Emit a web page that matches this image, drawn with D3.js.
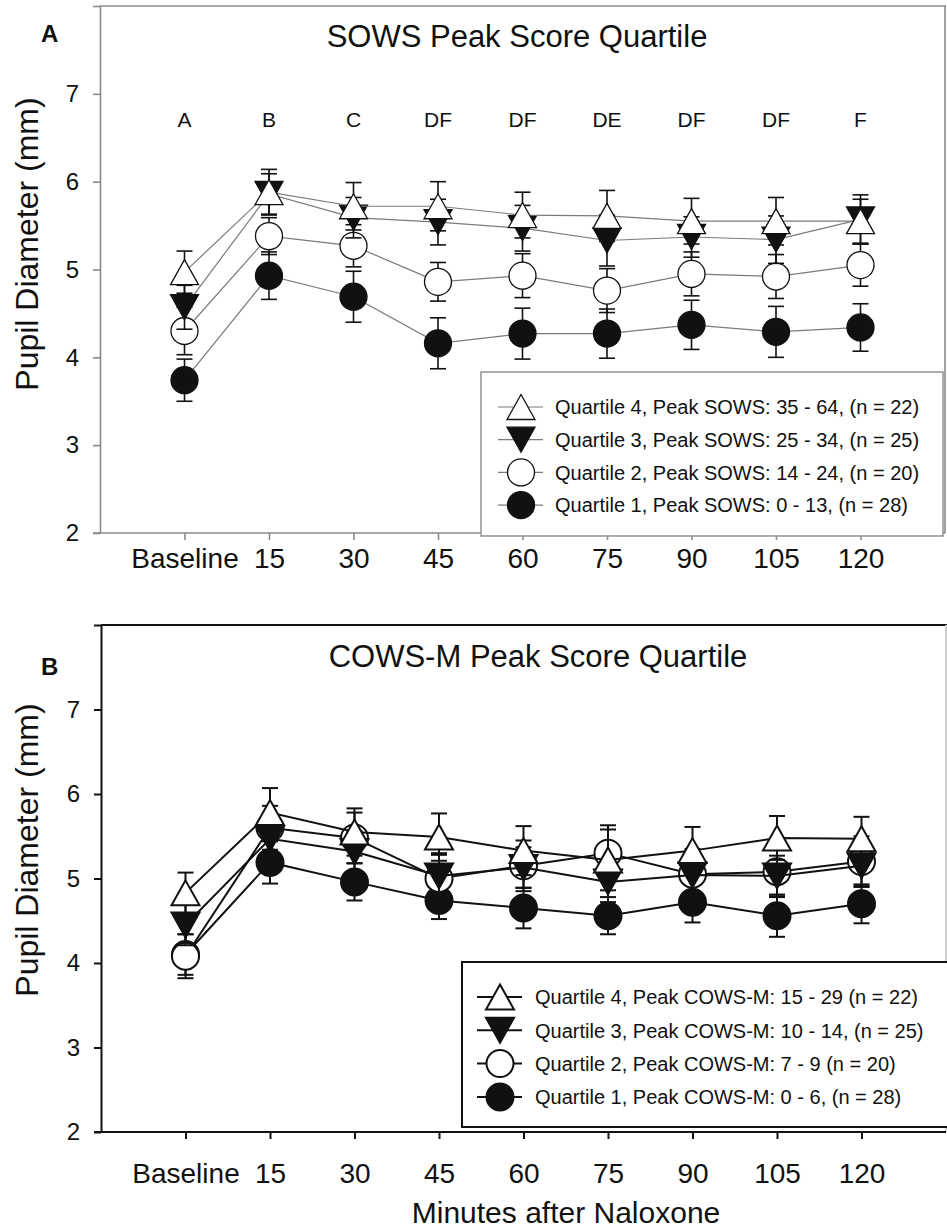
<!DOCTYPE html>
<html><head><meta charset="utf-8">
<script src="https://cdn.jsdelivr.net/npm/d3@7"></script>
<style>
body{margin:0;background:#fff}
svg{display:block}
text{font-family:"Liberation Sans",Arial,sans-serif;fill:#111}
</style>
</head><body>
<svg id="c" width="947" height="1232"></svg>
<script>
// ---------- data ----------
const timepoints = ["Baseline","15","30","45","60","75","90","105","120"];
const yTicks = [2,3,4,5,6,7,8];
const sigLetters = ["A","B","C","DF","DF","DE","DF","DF","F"];

// Panel A: SOWS peak score quartile (mean, SE)
const sowsQ1 = [3.74,4.93,4.69,4.16,4.27,4.27,4.37,4.29,4.34];
const sowsQ1Err = [0.24,0.27,0.29,0.29,0.29,0.28,0.28,0.29,0.27];
const sowsQ2 = [4.30,5.38,5.27,4.86,4.93,4.76,4.95,4.92,5.05];
const sowsQ2Err = [0.27,0.21,0.24,0.22,0.25,0.25,0.25,0.25,0.24];
const sowsQ3 = [4.57,5.86,5.59,5.54,5.47,5.33,5.37,5.34,5.57];
const sowsQ3Err = [0.25,0.23,0.23,0.26,0.26,0.29,0.23,0.27,0.28];
const sowsQ4 = [4.97,5.88,5.72,5.72,5.62,5.61,5.55,5.55,5.55];
const sowsQ4Err = [0.24,0.26,0.27,0.28,0.26,0.29,0.26,0.27,0.25];
const sowsLegend = [
  "Quartile 4, Peak SOWS: 35 - 64, (n = 22)",
  "Quartile 3, Peak SOWS: 25 - 34, (n = 25)",
  "Quartile 2, Peak SOWS: 14 - 24, (n = 20)",
  "Quartile 1, Peak SOWS: 0 - 13, (n = 28)"
];

// Panel B: COWS-M peak score quartile (mean, SE)
const cowsQ1 = [4.10,5.19,4.96,4.74,4.65,4.56,4.72,4.56,4.70];
const cowsQ1Err = [0.24,0.25,0.22,0.22,0.24,0.22,0.24,0.25,0.23];
const cowsQ2 = [4.08,5.60,5.48,5.00,5.15,5.30,5.05,5.08,5.20];
const cowsQ2Err = [0.26,0.26,0.30,0.30,0.30,0.33,0.30,0.30,0.30];
const cowsQ3 = [4.45,5.47,5.32,5.03,5.13,4.96,5.04,5.03,5.15];
const cowsQ3Err = [0.24,0.25,0.24,0.25,0.24,0.24,0.24,0.24,0.24];
const cowsQ4 = [4.83,5.78,5.55,5.49,5.33,5.22,5.33,5.48,5.47];
const cowsQ4Err = [0.24,0.29,0.28,0.28,0.29,0.36,0.28,0.26,0.26];
const cowsLegend = [
  "Quartile 4, Peak COWS-M: 15 - 29 (n = 22)",
  "Quartile 3, Peak COWS-M: 10 - 14, (n = 25)",
  "Quartile 2, Peak COWS-M: 7 - 9 (n = 20)",
  "Quartile 1, Peak COWS-M: 0 - 6, (n = 28)"
];

// ---------- drawing ----------
const svg = d3.select("#c");

function drawMarker(g, type, cx, cy, sw) {
  const hw = 14, hh = 12.5;
  if (type === "tri") {
    g.append("path").attr("d", d3.line()([[cx,cy-hh],[cx+hw,cy+hh],[cx-hw,cy+hh]]) + "Z")
      .attr("fill","#fff").attr("stroke","#111").attr("stroke-width",sw);
  } else if (type === "itri") {
    g.append("path").attr("d", d3.line()([[cx,cy+hh],[cx+hw,cy-hh],[cx-hw,cy-hh]]) + "Z")
      .attr("fill","#111").attr("stroke","#111").attr("stroke-width",sw);
  } else {
    g.append("circle").attr("cx",cx).attr("cy",cy).attr("r",13.5)
      .attr("fill", type === "fcirc" ? "#111" : "#fff")
      .attr("stroke","#111").attr("stroke-width",sw);
  }
}

function panel(o) {
  const g = svg.append("g");
  const x = d3.scaleLinear().domain([-1, 9]).range([o.left, o.right]);
  const y = d3.scaleLinear().domain([2, 8]).range([o.bottom, o.top]);

  // frame top & right
  g.append("line").attr("x1",o.left).attr("x2",o.right+1).attr("y1",y(8)).attr("y2",y(8))
    .attr("stroke",o.axisColor).attr("stroke-width",o.axisW);
  g.append("line").attr("x1",o.right).attr("x2",o.right).attr("y1",y(8)).attr("y2",y(2))
    .attr("stroke",o.rightColor).attr("stroke-width",o.axisW);

  // y axis
  const ya = g.append("g").attr("transform",`translate(${o.left},0)`)
    .call(d3.axisLeft(y).tickValues(yTicks).tickSize(7).tickSizeOuter(0).tickPadding(14)
      .tickFormat(d => d === 8 ? "" : d));
  ya.selectAll("path,line").attr("stroke",o.axisColor).attr("stroke-width",o.axisW);
  ya.selectAll("text").attr("font-size",24).attr("fill","#222")
    .style("font-family",'"Liberation Sans",Arial,sans-serif');

  // x axis
  const xa = g.append("g").attr("transform",`translate(0,${o.bottom})`)
    .call(d3.axisBottom(x).tickValues(d3.range(timepoints.length)).tickSize(7).tickSizeOuter(0)
      .tickPadding(o.xPad).tickFormat(i => timepoints[i]));
  xa.select("path").attr("d",`M${o.left-7},0H${o.right}`);
  xa.selectAll("path,line").attr("stroke",o.axisColor).attr("stroke-width",o.axisW);
  xa.selectAll("text").attr("font-size",28).attr("fill","#111")
    .style("font-family",'"Liberation Sans",Arial,sans-serif');

  // y title
  g.append("text").attr("transform",`translate(38,${o.yTitleY}) rotate(-90)`)
    .attr("text-anchor","middle").attr("font-size",32).text("Pupil Diameter (mm)");
  // panel letter
  g.append("text").attr("x",41).attr("y",o.letterY).attr("font-size",24)
    .attr("font-weight","bold").text(o.letter);
  // title
  g.append("text").attr("x",o.titleX).attr("y",o.titleY).attr("text-anchor","middle")
    .attr("font-size",31).text(o.title);

  // series
  const line = d3.line().x((d,i) => x(i)).y(d => y(d));
  o.series.forEach(s => {
    const sg = g.append("g");
    sg.append("path").attr("d", line(s.values)).attr("fill","none")
      .attr("stroke",o.lineColor).attr("stroke-width",o.lineW);
    s.values.forEach((v,i) => {
      const e = s.err[i], cx = x(i);
      const eb = sg.append("g").attr("stroke","#111").attr("stroke-width",o.errW);
      eb.append("line").attr("x1",cx).attr("x2",cx).attr("y1",y(v-e)).attr("y2",y(v+e));
      eb.append("line").attr("x1",cx-8).attr("x2",cx+8).attr("y1",y(v+e)).attr("y2",y(v+e));
      eb.append("line").attr("x1",cx-8).attr("x2",cx+8).attr("y1",y(v-e)).attr("y2",y(v-e));
    });
    s.values.forEach((v,i) => drawMarker(sg, s.type, x(i), y(v), o.markW));
  });

  // significance letters
  if (o.letters) {
    g.selectAll(".sig").data(o.letters).enter().append("text")
      .attr("x",(d,i) => x(i)).attr("y",127).attr("text-anchor","middle")
      .attr("font-size",21).attr("fill","#222").text(d => d);
  }

  // legend
  const L = o.legend;
  const lg = g.append("g");
  lg.append("rect").attr("x",L.x).attr("y",L.y).attr("width",L.w).attr("height",L.h)
    .attr("fill","#fff").attr("stroke",L.stroke).attr("stroke-width",L.sw);
  const order = [3,2,1,0];
  order.forEach((si,k) => {
    const s = o.series[si];
    const ry = L.rowY0 + k * L.rowStep;
    lg.append("line").attr("x1",L.symX-23).attr("x2",L.symX+22).attr("y1",ry).attr("y2",ry)
      .attr("stroke",o.lineColor).attr("stroke-width",o.lineW);
    drawMarker(lg, s.type, L.symX, ry, o.markW);
    lg.append("text").attr("x",L.textX).attr("y",ry).attr("dy","0.36em")
      .attr("font-size",20).attr("fill","#222").text(L.labels[k]);
  });
}

panel({
  left:100, right:945, top:6, bottom:533, xPad:8,
  axisColor:"#8a8a8a", rightColor:"#8a8a8a", axisW:1.6,
  lineColor:"#7a7a7a", lineW:1.2, errW:1.6, markW:1.3,
  yTitleY:244, letter:"A", letterY:42, title:"SOWS Peak Score Quartile", titleX:517, titleY:47,
  letters: sigLetters,
  series:[
    {values:sowsQ1, err:sowsQ1Err, type:"fcirc"},
    {values:sowsQ2, err:sowsQ2Err, type:"ocirc"},
    {values:sowsQ3, err:sowsQ3Err, type:"itri"},
    {values:sowsQ4, err:sowsQ4Err, type:"tri"}
  ],
  legend:{x:481, y:372, w:462, h:164, stroke:"#999", sw:1.6, rowY0:407, rowStep:32.7,
    symX:521, textX:555, labels:sowsLegend}
});

panel({
  left:101, right:946, top:625, bottom:1132, xPad:24,
  axisColor:"#111", rightColor:"#cfcfcf", axisW:2,
  lineColor:"#111", lineW:2, errW:2, markW:2,
  yTitleY:850, letter:"B", letterY:675, title:"COWS-M Peak Score Quartile", titleX:538, titleY:667,
  letters: null,
  series:[
    {values:cowsQ1, err:cowsQ1Err, type:"fcirc"},
    {values:cowsQ2, err:cowsQ2Err, type:"ocirc"},
    {values:cowsQ3, err:cowsQ3Err, type:"itri"},
    {values:cowsQ4, err:cowsQ4Err, type:"tri"}
  ],
  legend:{x:462, y:962, w:490, h:165, stroke:"#111", sw:2, rowY0:997, rowStep:33.3,
    symX:500, textX:535, labels:cowsLegend}
});

// x axis title (bottom)
svg.append("text").attr("x",566).attr("y",1223).attr("text-anchor","middle")
  .attr("font-size",30).text("Minutes after Naloxone");
</script>
</body></html>
